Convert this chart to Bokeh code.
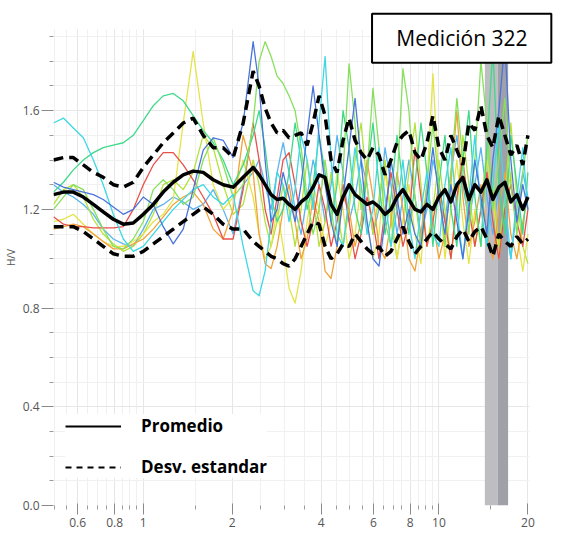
from bokeh.plotting import figure
from bokeh.models import (FixedTicker, CustomJSTickFormatter, BoxAnnotation, Label,
                          Legend, LegendItem)
from bokeh.embed import file_html
from bokeh.resources import INLINE

# ---------------- data ----------------
freqs = [0.497, 0.537, 0.580, 0.627, 0.678, 0.732, 0.792, 0.856, 0.925, 1.000,
         1.081, 1.168, 1.263, 1.365, 1.475, 1.595, 1.724, 1.863, 2.014, 2.177,
         2.353, 2.465, 2.583, 2.706, 2.836, 2.971, 3.113, 3.262, 3.418, 3.582,
         3.753, 3.932, 4.121, 4.317, 4.524, 4.740, 4.966, 5.204, 5.453, 5.713,
         5.984, 6.270, 6.571, 6.884, 7.214, 7.557, 7.916, 8.297, 8.694, 9.110,
         9.543, 10.00, 10.48, 10.98, 11.50, 12.05, 12.63, 13.23, 13.87, 14.53,
         15.22, 15.95, 16.71, 17.51, 18.35, 19.22, 20.0]

promedio = [1.26, 1.27, 1.27, 1.25, 1.22, 1.19, 1.16, 1.14, 1.145, 1.18, 1.22, 1.27, 1.31, 1.34, 1.355,
            1.35, 1.32, 1.30, 1.29, 1.33, 1.37,
            1.34, 1.30, 1.26, 1.24, 1.245, 1.22, 1.20, 1.23, 1.25, 1.29, 1.34, 1.33, 1.22, 1.18, 1.25,
            1.30, 1.26, 1.24, 1.22, 1.23, 1.21, 1.18, 1.20, 1.25, 1.28, 1.24, 1.20, 1.19, 1.22, 1.20,
            1.25, 1.28, 1.23, 1.30, 1.33, 1.24, 1.30, 1.27, 1.32, 1.24, 1.29, 1.31, 1.23, 1.26, 1.20, 1.25]
desv_sup = [1.40, 1.41, 1.41, 1.38, 1.35, 1.33, 1.30, 1.29, 1.31, 1.37, 1.42, 1.47, 1.51, 1.55, 1.57,
            1.50, 1.45, 1.45, 1.41, 1.55, 1.76,
            1.70, 1.61, 1.55, 1.51, 1.52, 1.49, 1.50, 1.51, 1.46, 1.55, 1.66, 1.58, 1.40, 1.35, 1.48,
            1.57, 1.48, 1.43, 1.40, 1.45, 1.42, 1.34, 1.40, 1.47, 1.50, 1.52, 1.43, 1.40, 1.47, 1.58,
            1.45, 1.40, 1.50, 1.44, 1.38, 1.55, 1.52, 1.62, 1.50, 1.45, 1.58, 1.50, 1.42, 1.46, 1.38, 1.50]
desv_inf = [1.13, 1.13, 1.13, 1.11, 1.08, 1.05, 1.02, 1.01, 1.01, 1.03, 1.06, 1.09, 1.12, 1.15, 1.18,
            1.21, 1.18, 1.14, 1.12, 1.12, 1.07,
            1.05, 1.03, 1.01, 1.00, 0.98, 0.97, 1.00, 1.05, 1.10, 1.15, 1.14, 1.05, 1.00, 1.02, 1.06,
            1.05, 1.10, 1.07, 1.04, 1.02, 1.05, 1.01, 1.03, 1.08, 1.13, 1.07, 1.02, 1.05, 1.08, 1.11,
            1.08, 1.06, 1.04, 1.09, 1.12, 1.07, 1.11, 1.13, 1.08, 1.01, 1.10, 1.07, 1.05, 1.09, 1.06, 1.08]

cyan = [1.55, 1.57, 1.53, 1.49, 1.40, 1.30, 1.18, 1.08, 1.03, 1.05, 1.10, 1.15, 1.20, 1.24, 1.28,
        1.30, 1.25, 1.22, 1.26, 1.05, 0.87,
        0.85, 0.95, 1.15, 1.35, 1.30, 1.15, 1.28, 1.50, 1.40, 1.20, 1.55, 1.82, 1.40, 1.10, 1.05,
        1.25, 1.45, 1.30, 1.10, 1.20, 1.45, 1.25, 1.05, 1.20, 1.40, 1.15, 1.00, 1.20, 1.35, 1.10,
        1.05, 1.30, 1.45, 1.20, 1.00, 1.25, 1.50, 1.20, 1.05, 1.30, 1.55, 1.25, 1.00, 1.25, 1.45, 1.20]
teal = [1.27, 1.31, 1.36, 1.40, 1.43, 1.45, 1.46, 1.47, 1.50, 1.56, 1.62, 1.66, 1.67, 1.64, 1.58,
        1.52, 1.47, 1.40, 1.30, 1.38, 1.50,
        1.60, 1.45, 1.25, 1.15, 1.20, 1.35, 1.55, 1.40, 1.20, 1.30, 1.50, 1.35, 1.15, 1.30, 1.60,
        1.45, 1.20, 1.10, 1.35, 1.55, 1.30, 1.10, 1.25, 1.50, 1.30, 1.10, 1.30, 1.55, 1.35, 1.05,
        1.30, 1.50, 1.20, 1.05, 1.40, 1.60, 1.25, 1.05, 1.45, 1.85, 1.30, 1.10, 1.50, 1.30, 1.10, 1.35]
lightgreen = [1.20, 1.25, 1.30, 1.28, 1.20, 1.12, 1.05, 1.04, 1.08, 1.15, 1.28, 1.32, 1.28, 1.22, 1.25,
              1.40, 1.49, 1.38, 1.25, 1.30, 1.55,
              1.80, 1.88, 1.82, 1.74, 1.71, 1.66, 1.60, 1.45, 1.25, 1.10, 1.20, 1.40, 1.20, 1.05, 1.35,
              1.79, 1.55, 1.20, 1.35, 1.69, 1.45, 1.15, 1.05, 1.30, 1.77, 1.60, 1.25, 1.05, 1.30, 1.55,
              1.30, 1.05, 1.35, 1.65, 1.40, 1.10, 1.40, 1.80, 1.55, 1.20, 1.40, 1.65, 1.30, 1.10, 1.35, 1.50]
yellow = [1.15, 1.16, 1.18, 1.14, 1.10, 1.07, 1.05, 1.05, 1.07, 1.10, 1.15, 1.18, 1.24, 1.55, 1.84,
          1.55, 1.30, 1.20, 1.25, 1.40, 1.25,
          1.10, 1.00, 1.05, 1.20, 1.05, 0.88, 0.82, 0.95, 1.15, 1.30, 1.20, 1.05, 1.15, 1.35, 1.20,
          1.00, 1.10, 1.30, 1.15, 1.00, 1.10, 1.35, 1.20, 1.00, 1.15, 1.30, 1.10, 0.98, 1.30, 1.75,
          1.30, 1.00, 1.20, 1.40, 1.15, 0.98, 1.20, 1.05, 1.40, 1.25, 1.00, 1.20, 1.35, 1.10, 0.95, 1.10]
orange = [1.12, 1.13, 1.14, 1.13, 1.10, 1.07, 1.04, 1.04, 1.06, 1.08, 1.12, 1.17, 1.22, 1.25, 1.27,
          1.22, 1.12, 1.08, 1.20, 1.50, 1.35,
          1.10, 0.98, 0.96, 1.05, 1.20, 1.30, 1.15, 1.00, 1.08, 1.25, 1.15, 0.95, 0.92, 1.05, 1.25,
          1.20, 1.05, 1.15, 1.40, 1.25, 1.05, 1.00, 1.15, 1.35, 1.20, 1.00, 0.95, 1.10, 1.30, 1.15,
          1.00, 1.10, 1.30, 1.60, 1.25, 1.05, 1.15, 1.30, 1.10, 1.00, 1.20, 1.35, 1.10, 1.00, 1.15, 1.25]
red = [1.17, 1.14, 1.13, 1.13, 1.125, 1.125, 1.125, 1.13, 1.20, 1.30, 1.38, 1.43, 1.43, 1.38, 1.32,
       1.25, 1.18, 1.08, 1.08, 1.28, 1.55,
       1.40, 1.20, 1.10, 1.25, 1.40, 1.43, 1.30, 1.15, 1.05, 1.15, 1.30, 1.20, 1.05, 1.15, 1.30,
       1.15, 1.00, 1.10, 1.25, 1.15, 1.00, 1.20, 1.35, 1.20, 1.05, 1.15, 1.45, 1.25, 1.05, 1.15,
       1.30, 1.15, 1.00, 1.25, 1.40, 1.20, 1.05, 1.20, 1.35, 1.15, 1.00, 1.20, 1.30, 1.15, 1.05, 1.20]
blue = [1.31, 1.29, 1.28, 1.27, 1.26, 1.24, 1.21, 1.18, 1.20, 1.25, 1.22, 1.13, 1.06, 1.12, 1.28,
        1.44, 1.49, 1.48, 1.41, 1.55, 1.88,
        1.70, 1.40, 1.15, 1.20, 1.35, 1.25, 1.15, 1.30, 1.50, 1.70, 1.50, 1.30, 1.15, 1.05, 1.25,
        1.45, 1.65, 1.40, 1.15, 1.00, 0.97, 1.15, 1.40, 1.25, 1.10, 1.20, 1.10, 1.05, 1.25, 1.45,
        1.25, 1.10, 1.30, 1.15, 1.00, 1.20, 1.40, 1.25, 1.10, 1.40, 1.60, 1.88, 1.40, 1.15, 1.30, 1.20]
sky = [1.30, 1.27, 1.25, 1.22, 1.18, 1.12, 1.08, 1.06, 1.05, 1.12, 1.20, 1.22, 1.25, 1.23, 1.20,
       1.22, 1.28, 1.20, 1.10, 1.30, 1.35,
       1.40, 1.30, 1.20, 1.35, 1.47, 1.35, 1.20, 1.10, 1.25, 1.40, 1.30, 1.15, 1.30, 1.50, 1.35,
       1.15, 1.25, 1.40, 1.30, 1.10, 1.20, 1.45, 1.30, 1.10, 1.25, 1.40, 1.25, 1.10, 1.20, 1.40,
       1.30, 1.15, 1.35, 1.50, 1.30, 1.15, 1.30, 1.45, 1.25, 1.10, 1.30, 1.15, 1.00, 1.20, 1.35, 1.25]
lime = [1.22, 1.28, 1.30, 1.25, 1.16, 1.10, 1.06, 1.03, 1.05, 1.10, 1.18, 1.30, 1.32, 1.28, 1.35,
        1.50, 1.45, 1.30, 1.18, 1.22, 1.40,
        1.30, 1.15, 1.05, 1.15, 1.30, 1.20, 1.05, 1.20, 1.40, 1.25, 1.05, 1.15, 1.35, 1.20, 1.05,
        1.20, 1.40, 1.55, 1.30, 1.10, 1.25, 1.40, 1.15, 1.00, 1.15, 1.35, 1.55, 1.30, 1.05, 1.20,
        1.40, 1.20, 1.00, 1.20, 1.50, 1.30, 1.05, 1.20, 1.45, 1.30, 1.05, 1.25, 1.55, 1.25, 1.05, 0.98]

curves = [sky, lime, yellow, orange, red, teal, lightgreen, cyan, blue]
curve_colors = ["#5ab4ee", "#b4e23c", "#e4e44a", "#f2a23a", "#e8504a", "#3fd98a", "#86e05c",
                "#3ed8e4", "#4a74dc"]

band_left = [14.30, 15.79]
band_right = [15.79, 17.14]
band_colors = ["#bdbdc2", "#a0a0a8"]

x_major = [0.6, 0.8, 1, 2, 4, 6, 8, 10, 20]
x_minor = [0.5, 0.55, 0.65, 0.7, 0.75, 0.85, 0.9, 0.95, 1.5, 2.5, 3, 3.5, 4.5, 5, 5.5,
           6.5, 7, 7.5, 8.5, 9, 9.5, 15]
y_major = [0.0, 0.4, 0.8, 1.2, 1.6]
y_minor = [0.1, 0.2, 0.3, 0.5, 0.6, 0.7, 0.9, 1.0, 1.1, 1.3, 1.4, 1.5, 1.7, 1.8, 1.9]

# visible plotting area (the frame is slightly larger so that the title box fits inside it)
x_end, y_end = 20.2, 1.93

# ---------------- figure ----------------
p = figure(width=560, height=537, x_axis_type="log", x_range=(0.497, 24.6), y_range=(0, 2.01),
           output_backend="svg", toolbar_location=None,
           min_border_left=52, min_border_right=6, min_border_top=9, min_border_bottom=32)
p.outline_line_color = None
p.background_fill_color = "white"

FONT = "Open Sans"

p.xaxis.ticker = FixedTicker(ticks=x_major, minor_ticks=x_minor)
p.yaxis.ticker = FixedTicker(ticks=y_major, minor_ticks=y_minor)
p.xaxis.formatter = CustomJSTickFormatter(code="return tick.toString();")
p.yaxis.formatter = CustomJSTickFormatter(code="return tick.toFixed(1);")
for ax in (p.xaxis[0], p.yaxis[0]):
    ax.axis_line_color = None
    ax.major_tick_line_color = "#8a8a8a"
    ax.minor_tick_line_color = "#9a9a9a"
    ax.major_label_text_font = FONT
    ax.major_label_text_font_size = "12px"
    ax.major_label_text_color = "#555555"
p.xaxis.major_tick_in = 2
p.xaxis.major_tick_out = 9
p.xaxis.minor_tick_in = 0
p.xaxis.minor_tick_out = 4
p.xaxis.major_label_standoff = 3
p.yaxis.major_tick_in = 0
p.yaxis.major_tick_out = 12
p.yaxis.minor_tick_in = 0
p.yaxis.minor_tick_out = 4
p.yaxis.major_label_standoff = 2
p.yaxis.axis_label = "H/V"
p.yaxis.axis_label_text_font = FONT
p.yaxis.axis_label_text_font_size = "10px"
p.yaxis.axis_label_text_font_style = "normal"
p.yaxis.axis_label_text_color = "#555555"
p.yaxis.axis_label_standoff = 2

p.xgrid.ticker = p.xaxis.ticker
p.ygrid.ticker = p.yaxis.ticker
for g in (p.xgrid[0], p.ygrid[0]):
    g.grid_line_color = "#e6e6e6"
    g.minor_grid_line_color = "#f0f0f0"

# shaded band
for bl, br, bc in zip(band_left, band_right, band_colors):
    p.add_layout(BoxAnnotation(left=bl, right=br, top=y_end, fill_color=bc, fill_alpha=1.0,
                               line_color=None, level="underlay"))

# white masks: keep grid lines inside the visible plotting area
p.add_layout(BoxAnnotation(bottom=y_end, fill_color="white", fill_alpha=1.0,
                           line_color=None, level="underlay"))
p.add_layout(BoxAnnotation(left=x_end, fill_color="white", fill_alpha=1.0,
                           line_color=None, level="underlay"))

# individual curves
for vals, col in zip(curves, curve_colors):
    p.line(freqs, vals, line_color=col, line_width=1.3, line_join="round")

# statistics
p.line(freqs, desv_sup, line_color="black", line_width=3.5, line_dash="10 6")
p.line(freqs, desv_inf, line_color="black", line_width=3.5, line_dash="10 6")
p.line(freqs, promedio, line_color="black", line_width=3.5, line_join="round")

# legend (sample lines only; renderers carry no visible data)
nan = float("nan")
leg_solid = p.line(x=freqs[:2], y=[nan, nan], line_color="black", line_width=2.2)
leg_dash = p.line(x=freqs[:2], y=[nan, nan], line_color="black", line_width=2.2, line_dash="6 5")
legend = Legend(items=[LegendItem(label="Promedio", renderers=[leg_solid]),
                       LegendItem(label="Desv. estandar", renderers=[leg_dash])],
                location=(12, 27), background_fill_color="white", background_fill_alpha=1.0,
                border_line_color=None, label_text_font=FONT, label_text_font_style="bold",
                label_text_font_size="17px", label_text_color="black",
                glyph_width=56, glyph_height=20, label_height=20, label_standoff=20,
                spacing=18, padding=10, margin=0)
p.add_layout(legend)

# annotation box "Medición 322" (outline box + centred text)
p.add_layout(BoxAnnotation(left=5.94, right=24.0, bottom=1.794, top=1.993,
                           fill_color="white", fill_alpha=1.0, line_color="black",
                           line_alpha=1.0, line_width=2, level="overlay"))
p.add_layout(Label(x=11.96, y=1.895, text="Medición 322", text_font=FONT,
                   text_font_size="21px", text_color="black",
                   text_align="center", text_baseline="middle", level="overlay"))

open("out.html", "w").write(file_html(p, INLINE))
